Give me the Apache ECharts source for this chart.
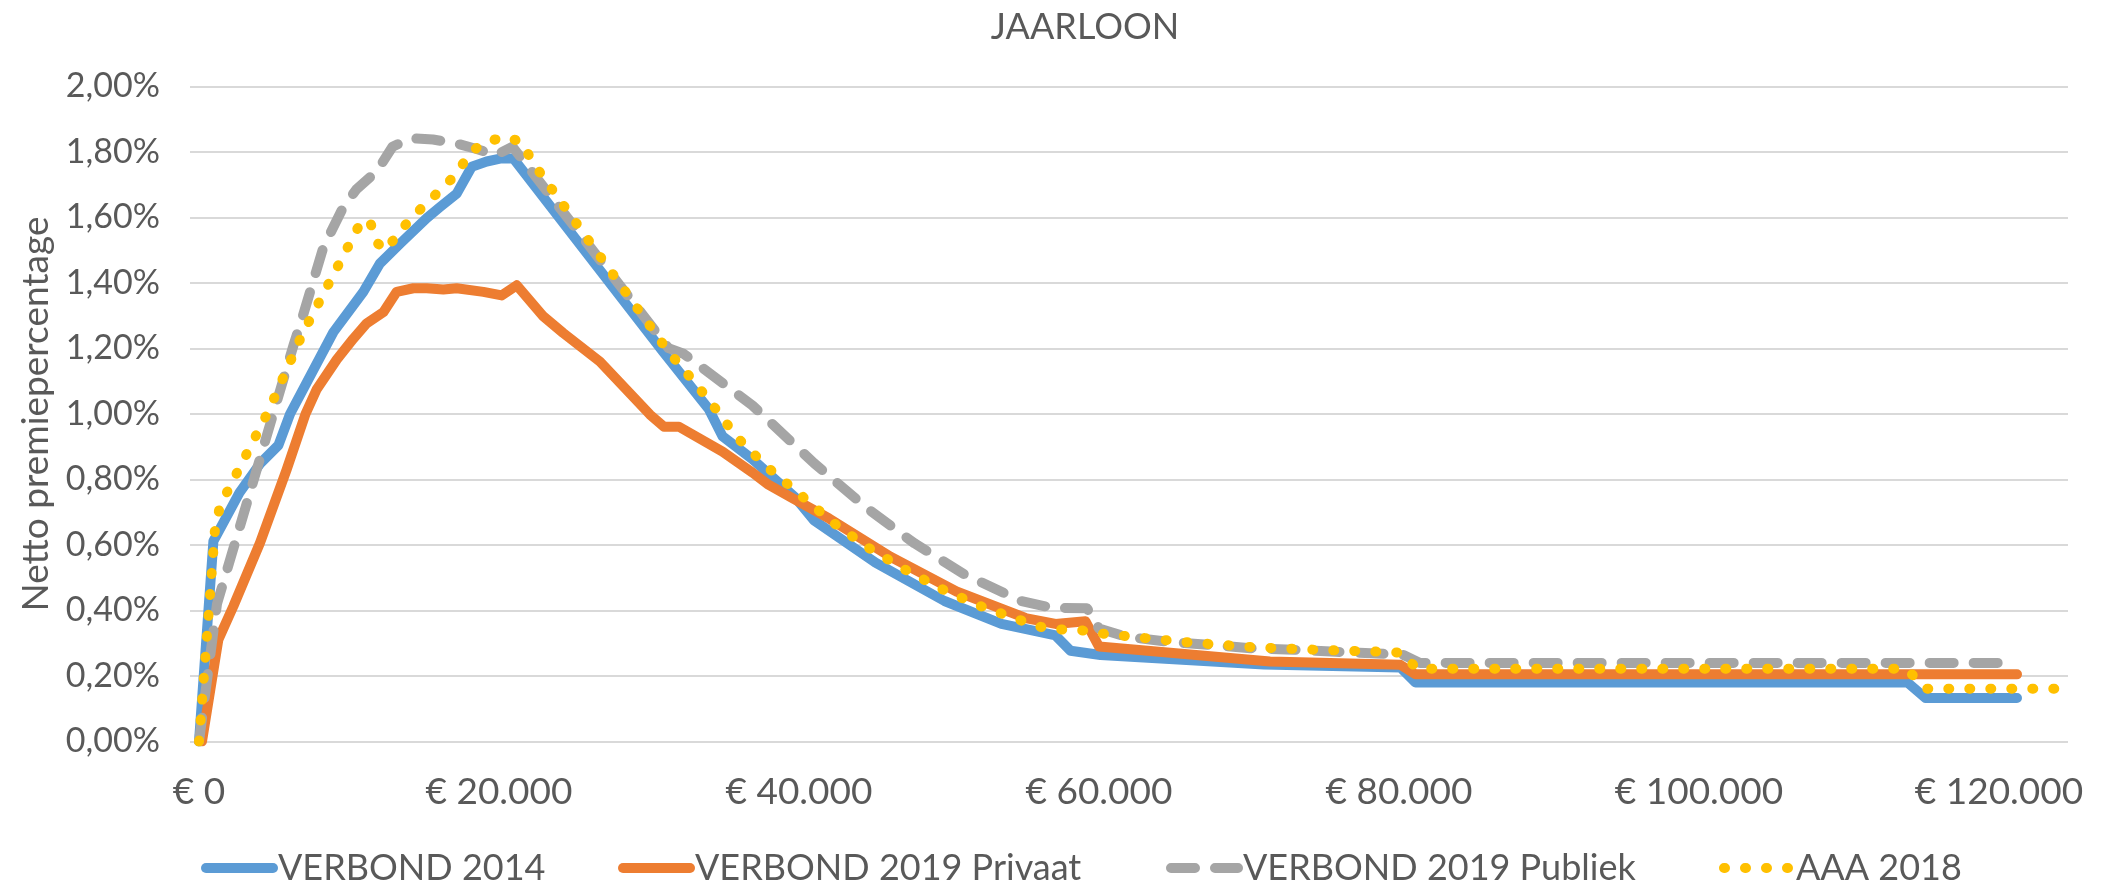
<!DOCTYPE html>
<html>
<head>
<meta charset="utf-8">
<title>JAARLOON</title>
<script src="https://cdn.jsdelivr.net/npm/echarts@6/dist/echarts.min.js"></script>
<style>
    html, body { margin: 0; padding: 0; background: #fff; }
    #chart { width: 2106px; height: 891px; }
</style>
</head>
<body>
<div id="chart"></div>
<script>
    // jaarloon (euro) -> netto premiepercentage (%)
    const verbond2014 = [
        [0, 0], [960, 0.612], [2700, 0.76], [4100, 0.85], [5300, 0.905], [6070, 1.0],
        [8960, 1.25], [10960, 1.373], [12070, 1.46], [13400, 1.52], [15180, 1.598],
        [16070, 1.632], [17180, 1.673], [18180, 1.755], [19180, 1.771], [20070, 1.78],
        [20960, 1.78], [30940, 1.19], [34000, 1.014], [34900, 0.932], [36900, 0.862],
        [39750, 0.745], [41000, 0.675], [45100, 0.546], [49700, 0.429], [53500, 0.359],
        [57100, 0.324], [58100, 0.277], [60100, 0.264], [71000, 0.235], [80100, 0.226],
        [81100, 0.18], [113900, 0.18], [115100, 0.133], [121200, 0.133]
    ];
    const verbond2019Privaat = [
        [200, 0], [1290, 0.311], [2290, 0.413], [4070, 0.607], [5840, 0.83], [7100, 1.0],
        [7840, 1.075], [9180, 1.166], [10290, 1.23], [11180, 1.277], [12290, 1.311],
        [13180, 1.373], [14290, 1.384], [15180, 1.384], [16290, 1.38], [17180, 1.384],
        [18960, 1.373], [20180, 1.362], [21180, 1.393], [22960, 1.298], [24290, 1.247],
        [26730, 1.16], [30070, 0.998], [31000, 0.961], [32000, 0.961], [34900, 0.885],
        [36900, 0.821], [37900, 0.786], [39500, 0.745], [42000, 0.681], [46100, 0.564],
        [50500, 0.458], [55100, 0.377], [57100, 0.359], [59100, 0.367], [60000, 0.29],
        [71400, 0.244], [80100, 0.234], [81100, 0.205], [121200, 0.205]
    ];
    const verbond2019Publiek = [
        [0, 0], [1200, 0.42], [6300, 1.21], [6960, 1.305], [8290, 1.509], [9620, 1.632],
        [10500, 1.686], [11850, 1.741], [12900, 1.816], [14100, 1.842], [15600, 1.838],
        [17100, 1.827], [18500, 1.809], [19800, 1.791], [20900, 1.816], [31300, 1.201],
        [32300, 1.184], [36900, 1.026], [41000, 0.85], [44600, 0.71], [47700, 0.605],
        [51000, 0.511], [54800, 0.429], [56900, 0.408], [59200, 0.407], [60000, 0.345],
        [61800, 0.32], [64500, 0.305], [67400, 0.295], [70100, 0.285], [73000, 0.28],
        [75800, 0.274], [78500, 0.269], [80300, 0.264], [81400, 0.24], [121200, 0.24]
    ];
    const aaa2018 = [
        [0, 0], [1050, 0.64], [1400, 0.72], [2000, 0.773], [4600, 1.006], [6900, 1.245],
        [10850, 1.591], [11400, 1.588], [11850, 1.523], [12470, 1.5], [13290, 1.553],
        [14290, 1.605], [15290, 1.648], [16290, 1.693], [17290, 1.738], [17960, 1.795],
        [19070, 1.83], [20470, 1.847], [21500, 1.83], [22300, 1.765], [31300, 1.19],
        [32300, 1.137], [34100, 1.037], [35800, 0.932], [37800, 0.841], [40000, 0.757],
        [42200, 0.671], [44500, 0.595], [46900, 0.529], [49400, 0.468], [52000, 0.415],
        [54700, 0.371], [56100, 0.35], [57500, 0.342], [58900, 0.339], [60300, 0.329],
        [63200, 0.315], [66100, 0.302], [70300, 0.288], [74500, 0.28], [78800, 0.274],
        [80200, 0.271], [81200, 0.222], [113800, 0.222], [115200, 0.161], [124600, 0.161]
    ];
    const seriesNames = ['VERBOND 2014', 'VERBOND 2019 Privaat', 'VERBOND 2019 Publiek', 'AAA 2018'];
    const salaryTicks = [0, 20000, 40000, 60000, 80000, 100000, 120000];

    const textColor = '#595959';
    const fontFamily = 'Lato';

    function euro(v) {
        return '€ ' + String(v).replace(/\B(?=(\d{3})+(?!\d))/g, '.');
    }

    function makeLine(name, data, color, type) {
        return {
            name: name,
            type: 'line',
            data: data,
            symbol: 'none',
            lineStyle: {
                color: color,
                width: 10,
                type: type,
                cap: 'round',
                join: 'round'
            },
            itemStyle: {color: color}
        };
    }

    var myChart = echarts.init(document.getElementById('chart'));
    var option = {
        animation: false,
        backgroundColor: '#fff',
        textStyle: {fontFamily: fontFamily, color: textColor},
        title: {
            text: 'JAARLOON',
            left: 1080,
            textAlign: 'center',
            top: 4,
            textStyle: {fontFamily: fontFamily, fontWeight: 'normal', fontSize: 36, color: textColor}
        },
        legend: [
            {left: 201},
            {left: 618},
            {left: 1166},
            {left: 1719}
        ].map(function (l, i) {
            return {
                data: [seriesNames[i]],
                left: l.left,
                top: 850,
                padding: 0,
                itemWidth: 67,
                itemHeight: 14,
                itemStyle: {opacity: 0},
                lineStyle: {width: 10},
                textStyle: {fontFamily: fontFamily, fontSize: 36, color: textColor}
            };
        }),
        grid: {
            left: 190,
            right: 38,
            top: 86.5,
            bottom: 149.5,
            containLabel: false,
            outerBoundsMode: 'none'
        },
        xAxis: {
            type: 'value',
            min: -600,
            max: 124600,
            axisLine: {show: false},
            axisTick: {show: false},
            splitLine: {show: false},
            axisLabel: {
                customValues: salaryTicks,
                formatter: euro,
                margin: 32,
                fontFamily: fontFamily,
                fontSize: 37,
                color: textColor
            }
        },
        yAxis: {
            type: 'value',
            min: 0,
            max: 2,
            interval: 0.2,
            name: 'Netto premiepercentage',
            nameLocation: 'middle',
            nameRotate: 90,
            nameGap: 132,
            nameTextStyle: {fontFamily: fontFamily, fontSize: 37, color: textColor},
            axisLine: {show: false},
            axisTick: {show: false},
            splitLine: {lineStyle: {color: '#D9D9D9', width: 2}},
            axisLabel: {
                formatter: function (v) {
                    return v.toFixed(2).replace('.', ',') + '%';
                },
                margin: 30,
                fontFamily: fontFamily,
                fontSize: 34,
                color: textColor
            }
        },
        series: [
            makeLine(seriesNames[0], verbond2014, '#5B9BD5', 'solid'),
            makeLine(seriesNames[1], verbond2019Privaat, '#ED7D31', 'solid'),
            makeLine(seriesNames[2], verbond2019Publiek, '#A5A5A5', [24, 20]),
            makeLine(seriesNames[3], aaa2018, '#FFC000', [1, 20])
        ]
    };

    option && myChart.setOption(option);
</script>
</body>
</html>
